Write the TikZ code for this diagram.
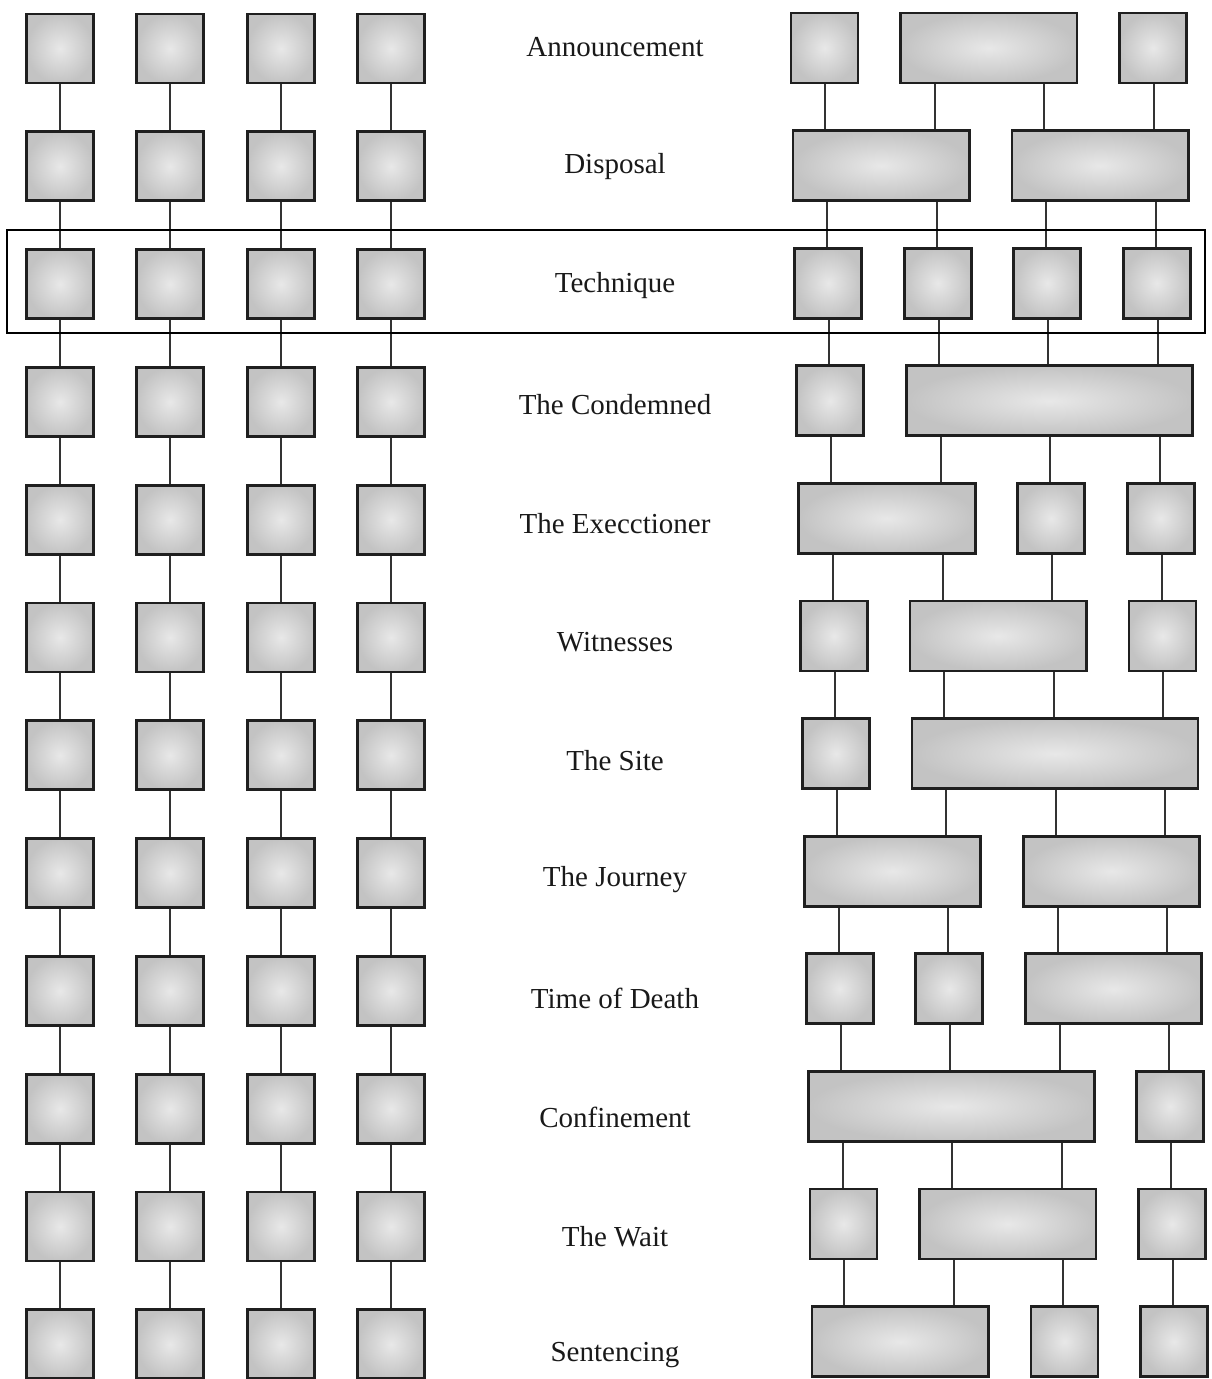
\documentclass[tikz,border=0pt]{standalone}
\usepackage{fontspec}
\setmainfont{Liberation Serif}
\usetikzlibrary{calc}
\begin{document}
\begin{tikzpicture}[x=0.5pt,y=-0.5pt,
  blk/.style={draw=black!88, line width=1.4pt, rectangle, inner sep=0pt,
    inner color=gray!18, outer color=gray!47},
  link/.style={draw=black!80, line width=0.85pt},
  lbl/.style={font=\fontsize{14.5}{17}\selectfont, text=black!90},
  hlbox/.style={draw=black, line width=1pt}]
\useasboundingbox (0,0) rectangle (1211,1379);
% labels
\foreach \r/\t in {0/Announcement,1/Disposal,2/Technique,3/The Condemned,
  4/The Execctioner,5/Witnesses,6/The Site,7/The Journey,8/Time of Death,
  9/Confinement,10/The Wait,11/Sentencing}{
  \pgfmathsetmacro\ly{47.5+118.9*\r}
  \node[lbl] (T-\r) at (615,\ly) {\t};
}
% left columns
\foreach \r in {0,...,11}{
  \foreach \k/\cx in {0/60,1/170,2/281,3/391}{
    \pgfmathsetmacro\cy{48.5+117.8*\r}
    \node[blk, minimum width=33.5pt, minimum height=34.5pt] (L-\r-\k) at (\cx,\cy) {};
  }
}
\foreach \r in {0,...,10}{
  \pgfmathtruncatemacro\n{\r+1}
  \foreach \k in {0,...,3}{
    \draw[link] (L-\r-\k.south) -- (L-\n-\k.north);
  }
}
% right column reference points (between rows r and r+1)
\foreach \r in {0,...,10}{
  \foreach \k in {0,...,3}{
    \pgfmathsetmacro\px{round(791+109.5*\k+1.9*\r+0.95+33.5)}
    \pgfmathsetmacro\py{107+117.6*\r}
    \coordinate (C-\r-\k) at (\px,\py);
  }
}
% right boxes
\foreach \r/\k/\n in {0/0/1,0/1/2,0/3/1,
  1/0/2,1/2/2,
  2/0/1,2/1/1,2/2/1,2/3/1,
  3/0/1,3/1/3,
  4/0/2,4/2/1,4/3/1,
  5/0/1,5/1/2,5/3/1,
  6/0/1,6/1/3,
  7/0/2,7/2/2,
  8/0/1,8/1/1,8/2/2,
  9/0/3,9/3/1,
  10/0/1,10/1/2,10/3/1,
  11/0/2,11/2/1,11/3/1}{
  \pgfmathsetmacro\w{67+109.5*(\n-1)}
  \pgfmathsetmacro\wpt{\w*0.5}
  \pgfmathsetmacro\cx{791+109.5*\k+1.9*\r+\w/2}
  \pgfmathsetmacro\cy{48+117.6*\r}
  \pgfmathtruncatemacro\kb{\k+1}
  \pgfmathtruncatemacro\kc{\k+2}
  \ifnum\n>1 \edef\aa{R-\r-\kb}\else\edef\aa{Z-\r-\k-a}\fi
  \ifnum\n>2 \edef\ab{R-\r-\kc}\else\edef\ab{Z-\r-\k-b}\fi
  \node[blk, minimum width=\wpt pt, minimum height=35pt, alias=\aa, alias=\ab]
    (R-\r-\k) at (\cx,\cy) {};
}
\foreach \r in {0,...,10}{
  \pgfmathtruncatemacro\n{\r+1}
  \foreach \k in {0,...,3}{
    \draw[link] (R-\r-\k.south -| C-\r-\k) -- (R-\n-\k.north -| C-\r-\k);
  }
}
% highlight frame
\draw[hlbox] (7,230) rectangle (1205,333);
\end{tikzpicture}
\end{document}
